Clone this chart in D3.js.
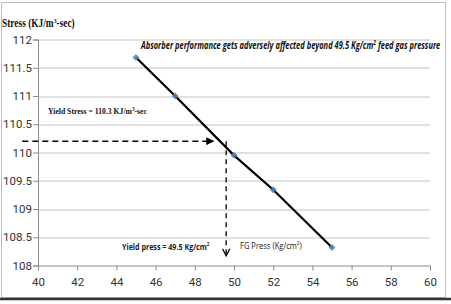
<!DOCTYPE html>
<html>
<head>
<meta charset="utf-8">
<script src="https://cdn.jsdelivr.net/npm/d3@7"></script>
<style>
  body { margin: 0; background: #fff; }
  svg { display: block; }
</style>
</head>
<body>
<div id="chart"></div>
<script>
// data
const pressure = [45, 47, 50, 52, 55];
const stress = [111.68, 111.0, 109.95, 109.34, 108.32];
const xTicks = [40, 42, 44, 46, 48, 50, 52, 54, 56, 58, 60];
const yTicks = [108, 108.5, 109, 109.5, 110, 110.5, 111, 111.5, 112];
const yieldLevel = 110.2;      // horizontal dashed arrow
const yieldPress = 49.6;       // vertical dashed arrow
const arrowFrom = 39.2;
const arrowTo = 48.95;
const arrowBottom = 108.17;

const W = 451, H = 304;
const margin = { top: 39.5, right: 21, bottom: 38.5, left: 38 };
const width = W - margin.left - margin.right;
const height = H - margin.top - margin.bottom;

const svg = d3.select('#chart').append('svg')
  .attr('width', W)
  .attr('height', H);

// squeeze a text horizontally so it spans the width seen in the picture
function fitText(sel, x0, w) {
  const bw = sel.node().getBBox().width;
  const k = w / bw;
  sel.attr('transform', 'translate(' + x0 + ',0) scale(' + k + ',1) translate(' + (-x0) + ',0)');
}

// frame
svg.append('rect')
  .attr('x', 1.5).attr('y', 2.5)
  .attr('width', 444).attr('height', 295)
  .attr('fill', '#fff')
  .attr('stroke', '#bdbdbd');
svg.append('line')
  .attr('x1', 0).attr('x2', W)
  .attr('y1', 299).attr('y2', 299)
  .attr('stroke', '#333').attr('stroke-width', 2.5);

const defs = svg.append('defs');
defs.append('marker')
  .attr('id', 'headFill')
  .attr('viewBox', '0 0 10 10')
  .attr('refX', 9).attr('refY', 5)
  .attr('markerWidth', 8).attr('markerHeight', 8)
  .attr('markerUnits', 'userSpaceOnUse')
  .attr('orient', 'auto')
  .append('path')
  .attr('d', 'M0,0 L10,5 L0,10 Z')
  .attr('fill', '#000');
defs.append('marker')
  .attr('id', 'headOpen')
  .attr('viewBox', '0 0 10 10')
  .attr('refX', 9).attr('refY', 5)
  .attr('markerWidth', 9).attr('markerHeight', 9)
  .attr('markerUnits', 'userSpaceOnUse')
  .attr('orient', 'auto')
  .append('path')
  .attr('d', 'M1,1 L9,5 L1,9')
  .attr('fill', 'none')
  .attr('stroke', '#000')
  .attr('stroke-width', 1.4);

const g = svg.append('g')
  .attr('transform', 'translate(' + margin.left + ',' + margin.top + ')');

const x = d3.scaleLinear().domain([40, 60]).range([0, width]);
const y = d3.scaleLinear().domain([108, 112]).range([height, 0]);

// gridlines
g.selectAll('line.grid')
  .data(yTicks.slice(1))
  .enter().append('line')
  .attr('class', 'grid')
  .attr('x1', 0).attr('x2', width)
  .attr('y1', d => Math.round(y(d)) + 0.5)
  .attr('y2', d => Math.round(y(d)) + 0.5)
  .attr('stroke', '#c4c4c4')
  .attr('stroke-width', 1.2);

// axes
const yAxis = d3.axisLeft(y)
  .tickValues(yTicks)
  .tickFormat(d3.format('~g'))
  .tickSize(5)
  .tickPadding(1);
const xAxis = d3.axisBottom(x)
  .tickValues(xTicks)
  .tickFormat(d3.format('d'))
  .tickSize(5)
  .tickPadding(7);

g.append('g').call(yAxis);
g.append('g')
  .attr('transform', 'translate(0,' + height + ')')
  .call(xAxis);

g.selectAll('.domain')
  .attr('stroke', '#8c8c8c');
g.selectAll('.tick line')
  .attr('stroke', '#8c8c8c');
g.selectAll('.tick text')
  .attr('font-family', 'Roboto, sans-serif')
  .attr('font-size', '11.5px')
  .attr('fill', '#333');

// dashed yield arrows
g.append('line')
  .attr('x1', x(arrowFrom)).attr('x2', x(arrowTo))
  .attr('y1', y(yieldLevel)).attr('y2', y(yieldLevel))
  .attr('stroke', '#000')
  .attr('stroke-width', 1.5)
  .attr('stroke-dasharray', '6,4')
  .attr('marker-end', 'url(#headFill)');
g.append('line')
  .attr('x1', x(yieldPress)).attr('x2', x(yieldPress))
  .attr('y1', y(yieldLevel)).attr('y2', y(arrowBottom))
  .attr('stroke', '#000')
  .attr('stroke-width', 1.3)
  .attr('stroke-dasharray', '5,4')
  .attr('marker-end', 'url(#headOpen)');

// series line
const pts = pressure.map((p, i) => [p, stress[i]]);
g.append('path')
  .datum(pts)
  .attr('d', d3.line().x(d => x(d[0])).y(d => y(d[1])))
  .attr('fill', 'none')
  .attr('stroke', '#000')
  .attr('stroke-width', 2.2);

// markers
g.selectAll('path.pt')
  .data(pts)
  .enter().append('path')
  .attr('class', 'pt')
  .attr('d', d3.symbol().type(d3.symbolDiamond2).size(32))
  .attr('transform', d => 'translate(' + x(d[0]) + ',' + y(d[1]) + ')')
  .attr('fill', '#4f81bd')
  .attr('opacity', 0.85);

// texts
const title = svg.append('text')
  .attr('x', 2).attr('y', 27)
  .attr('font-family', '"Liberation Serif", serif')
  .attr('font-weight', 'bold')
  .attr('font-size', '11.5px')
  .attr('fill', '#111');
title.append('tspan').text('Stress (KJ/m');
title.append('tspan').attr('font-size', '7px').attr('dy', -4).text('3');
title.append('tspan').attr('dy', 4).text('-sec)');
fitText(title, 2, 73);

const note = svg.append('text')
  .attr('x', 141).attr('y', 49)
  .attr('font-family', '"Open Sans", sans-serif')
  .attr('font-style', 'italic')
  .attr('font-weight', 'bold')
  .attr('font-size', '10px')
  .attr('fill', '#111');
note.append('tspan').text('Absorber performance gets adversely affected beyond 49.5  Kg/cm');
note.append('tspan').attr('font-size', '6.5px').attr('dy', -3.5).text('2');
note.append('tspan').attr('dy', 3.5).text(' feed gas pressure');
fitText(note, 141, 301);

const ys = svg.append('text')
  .attr('x', 48).attr('y', 114)
  .attr('font-family', '"Liberation Serif", serif')
  .attr('font-weight', 'bold')
  .attr('font-size', '9px')
  .attr('fill', '#111');
ys.append('tspan').text('Yield Stress = 110.3 KJ/m');
ys.append('tspan').attr('font-size', '6px').attr('dy', -3).text('3');
ys.append('tspan').attr('dy', 3).text('-sec');
fitText(ys, 48, 99);

const yp = svg.append('text')
  .attr('x', 122).attr('y', 250)
  .attr('font-family', '"Open Sans", sans-serif')
  .attr('font-weight', 'bold')
  .attr('font-size', '9.5px')
  .attr('fill', '#222');
yp.append('tspan').text('Yield press = 49.5  Kg/cm');
yp.append('tspan').attr('font-size', '6px').attr('dy', -3.5).text('2');
fitText(yp, 122, 88);

const fg = svg.append('text')
  .attr('x', 240).attr('y', 249)
  .attr('font-family', '"Open Sans", sans-serif')
  .attr('font-size', '9.5px')
  .attr('fill', '#222');
fg.append('tspan').text('FG Press (Kg/cm');
fg.append('tspan').attr('font-size', '6px').attr('dy', -3.5).text('2');
fg.append('tspan').attr('dy', 3.5).text(')');
fitText(fg, 240, 62);
</script>
</body>
</html>
